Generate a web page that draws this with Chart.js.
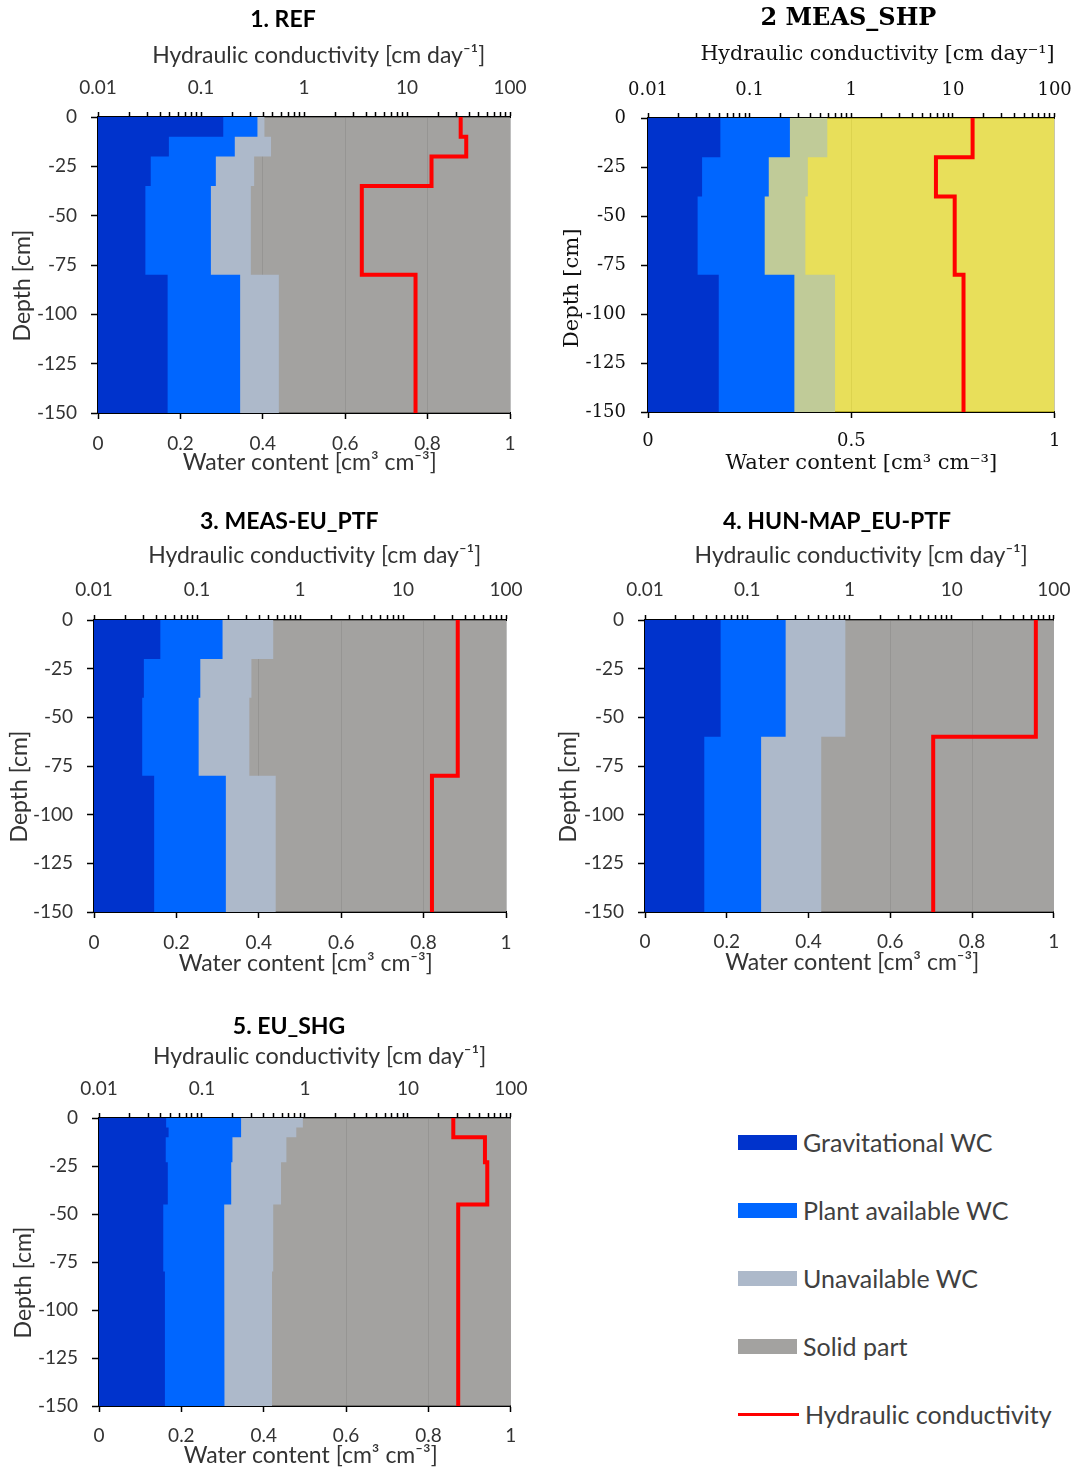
<!DOCTYPE html>
<html>
<head>
<meta charset="utf-8">
<script src="https://cdn.jsdelivr.net/npm/chart.js@4.4.1/dist/chart.umd.min.js"></script>
<style>
  body { margin: 0; background: #fff; }
  #page { position: relative; width: 1084px; height: 1471px; overflow: hidden; }
  canvas { position: absolute; }
  .leg { position: absolute; left: 738px; height: 30px; display: flex; align-items: center; font: 25px Lato; color: #404040; white-space: nowrap; }
  .leg .sw { display: inline-block; margin-right: 6px; }
</style>
</head>
<body>
<div id="page">
  <canvas id="p1" width="540" height="480" style="left:0px;top:0px"></canvas>
  <canvas id="p2" width="539" height="480" style="left:545px;top:0px"></canvas>
  <canvas id="p3" width="540" height="480" style="left:0px;top:500px"></canvas>
  <canvas id="p4" width="539" height="480" style="left:545px;top:500px"></canvas>
  <canvas id="p5" width="540" height="471" style="left:0px;top:1000px"></canvas>
</div>
<script>
// layer limits [cm] and values per panel (water content = cumulative boundary, K in cm/day)
const refDepths = [0, -10, -20, -35, -80, -150];
const refGrav = [0.304, 0.172, 0.128, 0.115, 0.169];
const refPlant = [0.387, 0.332, 0.286, 0.274, 0.345];
const refUnavail = [0.404, 0.42, 0.379, 0.371, 0.439];
const refK = [33.2, 37.6, 17.3, 3.64, 12.1];

const shpDepths = [0, -20, -40, -80, -150];
const shpGrav = [0.178, 0.133, 0.122, 0.174];
const shpPlant = [0.349, 0.297, 0.287, 0.36];
const shpUnavail = [0.441, 0.393, 0.387, 0.46];
const shpK = [15.6, 6.8, 10.4, 12.7];

const euPtfDepths = [0, -20, -40, -80, -150];
const euPtfGrav = [0.161, 0.121, 0.117, 0.146];
const euPtfPlant = [0.312, 0.258, 0.254, 0.32];
const euPtfUnavail = [0.435, 0.382, 0.377, 0.441];
const euPtfK = [34, 34, 34, 19.1];

const hunDepths = [0, -60, -150];
const hunGrav = [0.185, 0.145];
const hunPlant = [0.344, 0.284];
const hunUnavail = [0.49, 0.431];
const hunK = [66.6, 6.6];

const shgDepths = [0, -5, -10, -23, -45, -80, -150];
const shgGrav = [0.163, 0.169, 0.162, 0.167, 0.156, 0.16];
const shgPlant = [0.345, 0.345, 0.324, 0.321, 0.304, 0.305];
const shgUnavail = [0.495, 0.479, 0.455, 0.442, 0.423, 0.42];
const shgK = [27.6, 27.6, 56, 59, 30.8, 30.8];

const kTicks = [0.01, 0.1, 1, 10, 100];
const kTickLabels = ['0.01', '0.1', '1', '10', '100'];
const legendLabels = ['Gravitational WC', 'Plant available WC', 'Unavailable WC', 'Solid part', 'Hydraulic conductivity'];

const colGrav = '#0033CC';
const colPlant = '#0066FF';
const colUnavail = '#ADB9CA';
const colK = '#FF0000';

const panels = [
  {title: '1. REF', depths: refDepths, grav: refGrav, plant: refPlant, unavail: refUnavail, k: refK, wcStep: 0.2},
  {title: '2 MEAS_SHP', depths: shpDepths, grav: shpGrav, plant: shpPlant, unavail: shpUnavail, k: shpK, wcStep: 0.5},
  {title: '3. MEAS-EU_PTF', depths: euPtfDepths, grav: euPtfGrav, plant: euPtfPlant, unavail: euPtfUnavail, k: euPtfK, wcStep: 0.2},
  {title: '4. HUN-MAP_EU-PTF', depths: hunDepths, grav: hunGrav, plant: hunPlant, unavail: hunUnavail, k: hunK, wcStep: 0.2},
  {title: '5. EU_SHG', depths: shgDepths, grav: shgGrav, plant: shgPlant, unavail: shgUnavail, k: shgK, wcStep: 0.2},
];

// page placement of every panel (canvas box, plot area, text centres)
const layout = [
  {id: 'p1', left: 0, top: 0, w: 540, h: 480, area: {l: 98, r: 510, t: 117, b: 413}, titleX: 284, titleY: 20, kTitleX: 318, kTitleY: 56, kTickY: 88, wcTickY: 444, wcTitleX: 309, wcTitleY: 463, depthX: 23, depthY: 286, yLabRight: 77},
  {id: 'p2', left: 545, top: 0, w: 539, h: 480, area: {l: 648, r: 1060, t: 118, b: 412}, titleX: 849, titleY: 19, kTitleX: 882, kTitleY: 55, kTickY: 90, wcTickY: 441, wcTitleX: 865, wcTitleY: 464, depthX: 573, depthY: 290, yLabRight: 626, serif: true},
  {id: 'p3', left: 0, top: 500, w: 540, h: 480, area: {l: 94, r: 506, t: 620, b: 912}, titleX: 288, titleY: 522, kTitleX: 314, kTitleY: 556, kTickY: 590, wcTickY: 943, wcTitleX: 305, wcTitleY: 964, depthX: 20, depthY: 788, yLabRight: 73},
  {id: 'p4', left: 545, top: 500, w: 539, h: 480, area: {l: 645, r: 1062, t: 620, b: 912}, titleX: 838, titleY: 522, kTitleX: 866, kTitleY: 556, kTickY: 590, wcTickY: 942, wcTitleX: 857, wcTitleY: 963, depthX: 569, depthY: 788, yLabRight: 624},
  {id: 'p5', left: 0, top: 1000, w: 540, h: 471, area: {l: 99, r: 511, t: 1118, b: 1406}, titleX: 288, titleY: 1027, kTitleX: 319, kTitleY: 1057, kTickY: 1089, wcTickY: 1436, wcTitleX: 310, wcTitleY: 1456, depthX: 24, depthY: 1284, yLabRight: 78},
];

Chart.defaults.font.family = 'Lato';
Chart.defaults.color = '#333';

// layer values -> step line points (top and bottom of each layer)
function steps(depths, vals) {
  const pts = [];
  vals.forEach((v, i) => {
    pts.push({x: v, y: depths[i]}, {x: v, y: depths[i + 1]});
  });
  return pts;
}

// log axis ticks: every 1..9 of each decade
function kTickList() {
  const t = [];
  kTicks.forEach((d, i) => {
    if (i === kTicks.length - 1) { t.push({value: d}); return; }
    for (let m = 1; m < 10; m++) t.push({value: +(d * m).toPrecision(3)});
  });
  return t;
}

const measure = document.createElement('canvas').getContext('2d');
function fontStr(f) { return (f.weight || 'normal') + ' ' + f.size + 'px ' + f.family; }
// move a centred label sideways by padding it with spaces
function shiftText(text, dx, font) {
  measure.font = font;
  const w = measure.measureText('\u00a0').width || 5;
  const pad = '\u00a0'.repeat(Math.round(Math.abs(dx) * 2 / w));
  return dx >= 0 ? pad + text : text + pad;
}

function makePanel(pan, lay) {
  const fam = lay.serif ? "'DejaVu Serif', serif" : 'Lato';
  const txt = lay.serif ? '#111' : '#333';
  const tickFont = {family: fam, size: lay.serif ? 18 : 19};
  const axisFont = {family: fam, size: lay.serif ? 21 : 23};
  const titleFont = {family: fam, size: lay.serif ? 24 : 23, weight: 'bold'};
  const LH = 1.2;
  const L = lay.area.l - lay.left, R = lay.area.r - lay.left;
  const T = lay.area.t - lay.top, B = lay.area.b - lay.top;
  const titleBlock = (lay.titleY - lay.top) + titleFont.size * LH / 2;
  const tl = {x: 6, x2: 5, y: 7};
  const solidCol = lay.serif ? 'rgba(226,215,49,0.8)' : 'rgba(140,139,136,0.8)';
  const unavailCol = lay.serif ? '#C0CB98' : colUnavail;
  const gridCol = lay.serif ? '#C4C4C4' : '#BEBEBE';

  const titleText = shiftText(pan.title, (lay.titleX - lay.left) - R / 2, fontStr(titleFont));
  const kTitle = shiftText('Hydraulic conductivity [cm day\u207B\u00B9]', (lay.kTitleX - lay.left) - (L + R) / 2, fontStr(axisFont));
  const wcTitle = shiftText('Water content [cm\u00B3 cm\u207B\u00B3]', (lay.wcTitleX - lay.left) - (L + R) / 2, fontStr(axisFont));
  const depthTitle = shiftText('Depth [cm]', (T + B) / 2 - (lay.depthY - lay.top), fontStr(axisFont));
  const fillTo0 = {value: 0};
  const noLine = {borderWidth: 0, borderColor: 'rgba(0,0,0,0)'};

  return new Chart(document.getElementById(lay.id), {
    type: 'line',
    data: {
      datasets: [
        {label: legendLabels[4], data: steps(pan.depths, pan.k), xAxisID: 'x2', borderColor: colK, borderWidth: 4, fill: false},
        Object.assign({label: legendLabels[0], data: steps(pan.depths, pan.grav), backgroundColor: colGrav, fill: fillTo0}, noLine),
        Object.assign({label: legendLabels[1], data: steps(pan.depths, pan.plant), backgroundColor: colPlant, fill: fillTo0}, noLine),
        Object.assign({label: legendLabels[2], data: steps(pan.depths, pan.unavail), backgroundColor: unavailCol, fill: fillTo0}, noLine),
        Object.assign({label: legendLabels[3], data: steps(pan.depths, pan.grav.map(() => 1)), backgroundColor: solidCol, fill: fillTo0}, noLine),
      ]
    },
    options: {
      responsive: false,
      animation: false,
      events: [],
      indexAxis: 'y',
      elements: {point: {radius: 0}, line: {tension: 0}},
      layout: {padding: {left: 0, right: lay.w - R, top: 0, bottom: 0}},
      plugins: {
        legend: {display: false},
        tooltip: {enabled: false},
        title: {
          display: true, text: titleText, font: titleFont, color: '#000',
          padding: {top: (lay.titleY - lay.top) - titleFont.size * LH / 2, bottom: 0}
        }
      },
      scales: {
        x: {
          type: 'linear', position: 'bottom', min: 0, max: 1,
          ticks: {stepSize: pan.wcStep, font: tickFont, color: txt, maxRotation: 0,
            padding: (lay.wcTickY - lay.top) - B - tl.x - tickFont.size * LH / 2,
            callback: v => String(+v.toFixed(2))},
          grid: {color: gridCol, lineWidth: 1, tickColor: '#000', tickLength: tl.x, tickWidth: 1.5},
          border: {color: '#000', width: 2},
          title: {display: true, text: wcTitle, font: axisFont, color: txt,
            padding: {top: 0, bottom: lay.h - (lay.wcTitleY - lay.top) - axisFont.size * LH / 2}},
          afterFit: s => { s.height = lay.h - B; }
        },
        x2: {
          type: 'logarithmic', axis: 'x', position: 'top', min: 0.01, max: 100,
          afterBuildTicks: s => { s.ticks = kTickList(); },
          ticks: {autoSkip: false, maxRotation: 0, font: tickFont, color: txt,
            padding: T - tl.x2 - tickFont.size * LH / 2 - (lay.kTickY - lay.top),
            callback: v => { const i = kTicks.indexOf(v); return i >= 0 ? kTickLabels[i] : ''; }},
          grid: {drawOnChartArea: false, tickColor: '#000', tickLength: tl.x2, tickWidth: 1.5},
          border: {color: '#000', width: 2},
          title: {display: true, text: kTitle, font: axisFont, color: txt,
            padding: {top: (lay.kTitleY - lay.top) - titleBlock - axisFont.size * LH / 2, bottom: 0}},
          afterFit: s => { s.height = T - titleBlock; }
        },
        y: {
          type: 'linear', min: -150, max: 0,
          ticks: {stepSize: 25, font: tickFont, color: txt, padding: L - tl.y - (lay.yLabRight - lay.left)},
          grid: {drawOnChartArea: false, tickColor: '#000', tickLength: tl.y, tickWidth: 1.5},
          border: {color: '#000', width: 2},
          title: {display: true, text: depthTitle, font: axisFont, color: txt,
            padding: {top: (lay.depthX - lay.left) - axisFont.size * LH / 2, bottom: 0}},
          afterFit: s => { s.width = L; }
        }
      }
    }
  });
}

panels.forEach((p, i) => makePanel(p, layout[i]));

// legend (right bottom)
const legendColors = [colGrav, colPlant, colUnavail, '#A3A2A0', colK];
const page = document.getElementById('page');
legendLabels.forEach((lab, i) => {
  const row = document.createElement('div');
  row.className = 'leg';
  row.style.top = (1142 + 68 * i - 15) + 'px';
  const sw = document.createElement('span');
  sw.className = 'sw';
  const isLine = i === legendLabels.length - 1;
  sw.style.width = (isLine ? 61 : 59) + 'px';
  sw.style.height = (isLine ? 3 : 15) + 'px';
  sw.style.background = legendColors[i];
  row.appendChild(sw);
  row.appendChild(document.createTextNode(lab));
  page.appendChild(row);
});
</script>
</body>
</html>
